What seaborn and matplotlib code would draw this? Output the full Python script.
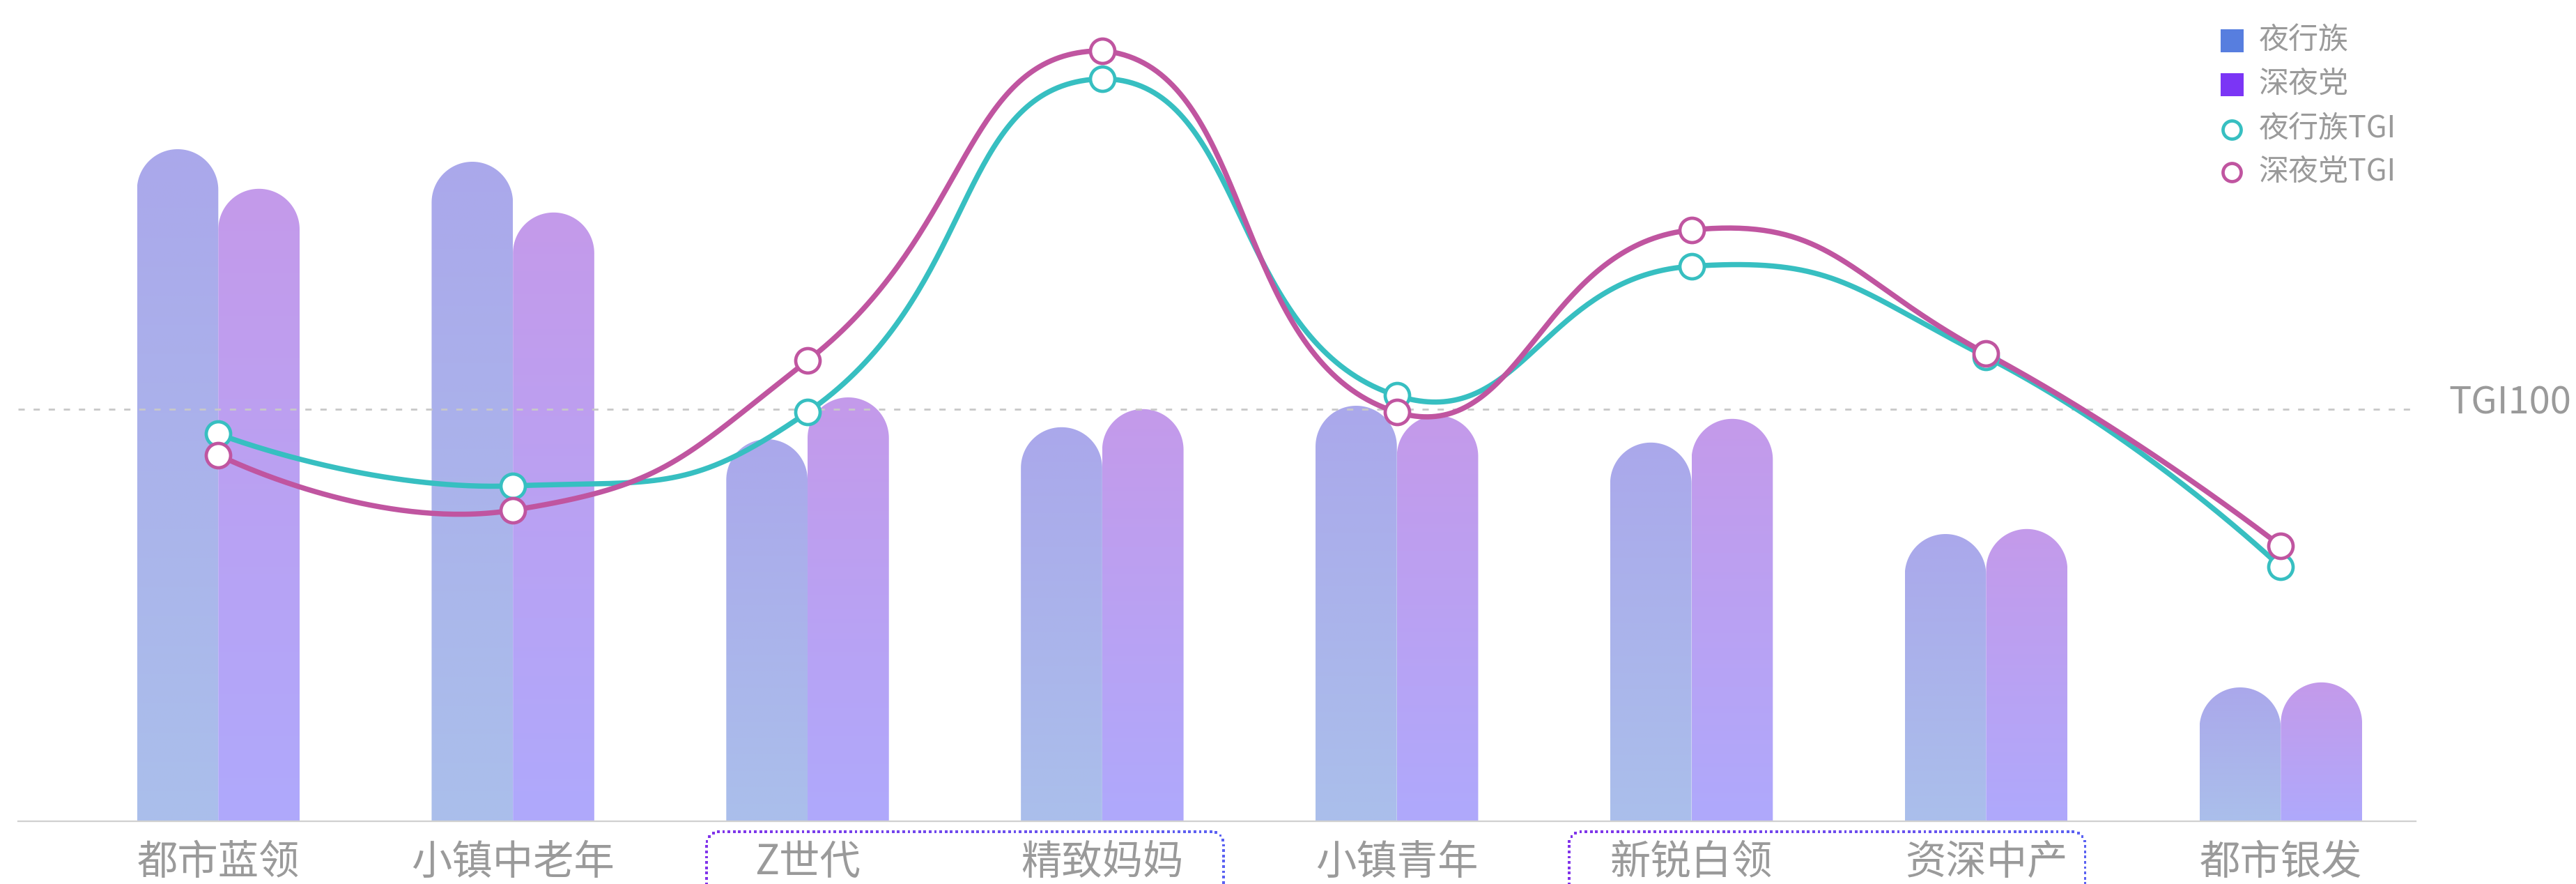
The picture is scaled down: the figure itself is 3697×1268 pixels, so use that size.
import numpy as np
import pandas as pd
import matplotlib
matplotlib.use("Agg")
import matplotlib.pyplot as plt
import seaborn as sns
from matplotlib.path import Path
from matplotlib.patches import PathPatch

# ---------------- data ----------------
categories = ["都市蓝领", "小镇中老年", "Z世代", "精致妈妈", "小镇青年", "新锐白领", "资深中产", "都市银发"]
series_names = ["夜行族", "深夜党"]
share_night = [24.10, 23.65, 13.70, 14.13, 14.90, 13.58, 10.30, 4.80]     # 夜行族 (bars)
share_late = [22.68, 21.83, 15.20, 14.78, 14.55, 14.43, 10.48, 4.98]      # 深夜党 (bars)
tgi_night = [94.0, 81.4, 99.3, 180.2, 103.3, 134.7, 112.7, 61.7]          # 夜行族TGI
tgi_late = [88.9, 75.5, 111.8, 187.0, 99.3, 143.5, 113.5, 66.8]           # 深夜党TGI
tgi_ref = 100
tgi_label = "TGI100"
legend_labels = ["夜行族", "深夜党", "夜行族TGI", "深夜党TGI"]
highlight_groups = [("Z世代", "精致妈妈"), ("新锐白领", "资深中产")]

# ---------------- style ----------------
W, H = 3697, 1268
DPI = 100
C_NIGHT = "#577EDF"
C_LATE = "#7B35F5"
C_TGI_N = "#37BFC1"
C_TGI_L = "#C055A0"
GRAD = {0: ("#AAA8EB", "#ABBFEB"), 1: ("#C49AEA", "#AFA9FC")}
TXT = "#9A9A9A"

sns.set_theme(style="white")
plt.rcParams["font.family"] = ["Noto Sans CJK SC", "DejaVu Sans"]
plt.rcParams["lines.scale_dashes"] = False

fig = plt.figure(figsize=(W / DPI, H / DPI), dpi=DPI)
ax_l, ax_r, ax_b, ax_t = 26, 3467, 1178, 40
ax = fig.add_axes([ax_l / W, (H - ax_b) / H, (ax_r - ax_l) / W, (ax_b - ax_t) / H])

px_per_unit = 422.86
c0 = 313.3
xmin = -(c0 - ax_l) / px_per_unit
xmax = (ax_r - c0) / px_per_unit
ymax_bar = (ax_b - ax_t) / 40.0
ymax_tgi = (ax_b - ax_t) / 5.91

df = pd.DataFrame({
    "cat": categories * 2,
    "val": share_night + share_late,
    "series": [series_names[0]] * len(categories) + [series_names[1]] * len(categories),
})
sns.barplot(data=df, x="cat", y="val", hue="series", order=categories, hue_order=series_names,
            palette=[C_NIGHT, C_LATE], width=0.552, gap=0, dodge=True, legend=False,
            ax=ax, saturation=1, errorbar=None)

ax.set_xlim(xmin, xmax)
ax.set_ylim(0, ymax_bar)

# rounded-top gradient bars
bar_patches = [p for p in ax.patches]
ppy = (ax_b - ax_t) / ymax_bar  # px per y unit
for k, p in enumerate(bar_patches):
    x0 = p.get_x()
    w = p.get_width()
    h = p.get_height()
    s = 0 if k < len(categories) else 1
    rx = w / 2
    ry = (w * px_per_unit / 2) / ppy
    cx = x0 + rx
    th = np.linspace(np.pi, 0, 60)
    verts = [(x0, 0), (x0, h - ry)]
    verts += list(zip(cx + rx * np.cos(th), (h - ry) + ry * np.sin(th)))
    verts += [(x0 + w, h - ry), (x0 + w, 0), (x0, 0)]
    codes = [Path.MOVETO] + [Path.LINETO] * (len(verts) - 2) + [Path.CLOSEPOLY]
    clip = PathPatch(Path(verts, codes), transform=ax.transData, facecolor="none", edgecolor="none")
    ax.add_patch(clip)
    top, bot = GRAD[s]
    ct = np.array(matplotlib.colors.to_rgb(top))
    cb = np.array(matplotlib.colors.to_rgb(bot))
    t = np.linspace(0, 1, 256)[:, None]
    img = (ct * (1 - t) + cb * t)[:, None, :]
    im = ax.imshow(img, extent=(x0, x0 + w, 0, h), origin="upper", aspect="auto",
                   interpolation="bilinear", zorder=2)
    im.set_clip_path(clip)
    p.set_visible(False)

ax.set_xlim(xmin, xmax)
ax.set_ylim(0, ymax_bar)
for sp in ["top", "left", "right"]:
    ax.spines[sp].set_visible(False)
ax.spines["bottom"].set_color("#D0D0D0")
ax.spines["bottom"].set_linewidth(1.6)
ax.set_yticks([])
ax.set_xticks(range(len(categories)))
ax.set_xticklabels(categories)
ax.tick_params(axis="x", length=0, pad=21, labelsize=42, labelcolor=TXT)
ax.set_xlabel("")
ax.set_ylabel("")
ax.grid(False)

# ---------------- TGI axis ----------------
ax2 = ax.twinx()
ax2.set_position(ax.get_position())
ax2.set_xlim(xmin, xmax)
ax2.set_ylim(0, ymax_tgi)
ax2.set_yticks([])
for sp in ax2.spines.values():
    sp.set_visible(False)
ax2.grid(False)

ax2.axhline(tgi_ref, color="#C8C8C8", lw=2.0, linestyle=(0, (6.5, 9.1)), zorder=1)


def echarts_smooth(P, smooth=0.5, n_samp=80):
    n = len(P)
    pmin = P.min(0)
    pmax = P.max(0)
    out = [P[0]]
    cp0 = P[0].copy()
    tt = np.linspace(0, 1, n_samp)[1:, None]
    for i in range(1, n):
        p = P[i]
        prev = P[i - 1]
        if i == n - 1:
            ncp = p.copy()
            v = np.zeros(2)
            ratio = 0.5
        else:
            nxt = P[i + 1]
            v = nxt - prev
            lp = np.linalg.norm(p - prev)
            ln = np.linalg.norm(nxt - p)
            ratio = ln / (ln + lp)
            ncp = p - v * smooth * (1 - ratio)
        a = np.clip(cp0, pmin, pmax)
        b = np.clip(ncp, pmin, pmax)
        seg = ((1 - tt) ** 3) * prev + 3 * ((1 - tt) ** 2) * tt * a + 3 * (1 - tt) * tt ** 2 * b + tt ** 3 * p
        out.extend(seg)
        cp0 = p + v * smooth * ratio
    return np.array(out)


xs = np.arange(len(categories), dtype=float)
for vals, col in [(tgi_night, C_TGI_N), (tgi_late, C_TGI_L)]:
    pts = np.column_stack([xs, np.array(vals, dtype=float)])
    disp = ax2.transData.transform(pts)
    curve_disp = echarts_smooth(disp)
    curve = ax2.transData.inverted().transform(curve_disp)
    ax2.plot(curve[:, 0], curve[:, 1], color=col, lw=5.4, zorder=3,
             solid_capstyle="round", solid_joinstyle="round")
    sns.scatterplot(x=xs, y=vals, ax=ax2, s=635, color="white", edgecolor=col,
                    linewidth=3.4, zorder=4, clip_on=False)
ax2.set_xlim(xmin, xmax)
ax2.set_ylim(0, ymax_tgi)

# ---------------- overlay (legend, labels, boxes) ----------------
ov = fig.add_axes([0, 0, 1, 1], zorder=10)
ov.set_xlim(0, W)
ov.set_ylim(H, 0)
ov.axis("off")
ov.patch.set_visible(False)

ov.text(3690, 578, tgi_label, ha="right", va="center", fontsize=39, color=TXT)

leg_x = 3202.8
leg_tx = 3241.7
rows = [58, 120.5, 185.7, 246.7]
ov.scatter([leg_x], [rows[0]], marker="s", s=(33 * 0.72) ** 2, color=C_NIGHT, linewidths=0)
ov.scatter([leg_x], [rows[1]], marker="s", s=(33 * 0.72) ** 2, color=C_LATE, linewidths=0)
ov.scatter([leg_x], [rows[2]], marker="o", s=(26 * 0.72) ** 2, facecolor="white",
           edgecolor=C_TGI_N, linewidths=3.4)
ov.scatter([leg_x], [rows[3]], marker="o", s=(26 * 0.72) ** 2, facecolor="white",
           edgecolor=C_TGI_L, linewidths=3.4)
for lab, yy in zip(legend_labels, rows):
    ov.text(leg_tx, yy, lab, ha="left", va="center", fontsize=31, color=TXT)

# dotted rounded boxes around highlighted category pairs
fig.canvas.draw()


def data_to_px(xd):
    return ax.transData.transform((xd, 0))[0]


box_offsets = [(-145, 174.5), (-176, 142)]
c_left = np.array(matplotlib.colors.to_rgb("#8133EA"))
c_right = np.array(matplotlib.colors.to_rgb("#5B62F2"))
for (a, b), (ol, orr) in zip(highlight_groups, box_offsets):
    xl = data_to_px(categories.index(a)) + ol
    xr = data_to_px(categories.index(b)) + orr
    yt = 1193.0
    yb = 1275.0
    r = 18.0
    pts = []
    pts += [(xl, y) for y in np.linspace(yb, yt + r, 40)]
    th = np.linspace(np.pi, 1.5 * np.pi, 20)
    pts += [(xl + r + r * np.cos(t_), yt + r + r * np.sin(t_)) for t_ in th]
    pts += [(x, yt) for x in np.linspace(xl + r, xr - r, 200)]
    th = np.linspace(1.5 * np.pi, 2 * np.pi, 20)
    pts += [(xr - r + r * np.cos(t_), yt + r + r * np.sin(t_)) for t_ in th]
    pts += [(xr, y) for y in np.linspace(yt + r, yb, 40)]
    pts = np.array(pts)
    seglen = np.r_[0, np.cumsum(np.hypot(*np.diff(pts, axis=0).T))]
    ds = np.arange(0, seglen[-1], 7.6)
    dx = np.interp(ds, seglen, pts[:, 0])
    dy = np.interp(ds, seglen, pts[:, 1])
    f = ((dx - xl) / (xr - xl))[:, None]
    cols = c_left * (1 - f) + c_right * f
    ov.scatter(dx, dy, marker="s", s=(3.8 * 0.72) ** 2, c=cols, linewidths=0, clip_on=True)

fig.savefig("out.png", dpi=DPI)
